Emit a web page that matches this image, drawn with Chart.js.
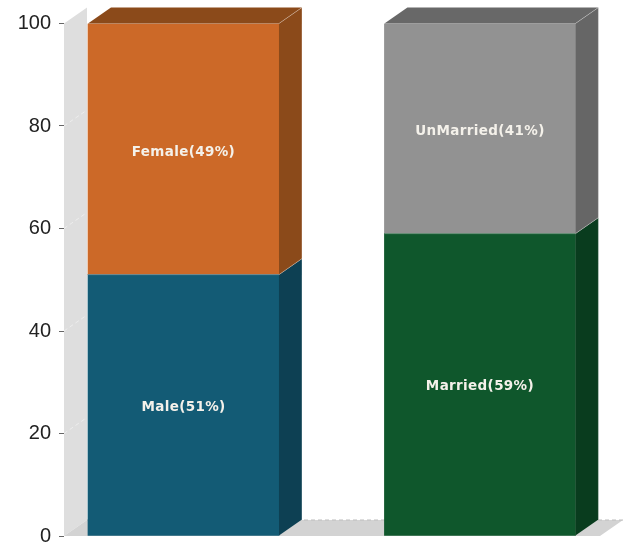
<!DOCTYPE html>
<html>
<head>
<meta charset="utf-8">
<style>html,body{margin:0;padding:0;background:#fff}canvas{display:block;filter:blur(0.5px)}</style>
<script src="https://cdn.jsdelivr.net/npm/chart.js@4"></script>
</head>
<body>
<canvas id="c" width="623" height="545"></canvas>
<script>
const barPositions = [0, 1];
const lowerValues = [51, 59];
const upperValues = [49, 41];
const lowerLabels = ['Male(51%)', 'Married(59%)'];
const upperLabels = ['Female(49%)', 'UnMarried(41%)'];
const lowerFront = ['#135B75', '#0F572C'];
const lowerSide = ['#0D4053', '#093C1E'];
const upperFront = ['#CC6928', '#929292'];
const upperSide = ['#8B4A1A', '#666666'];
const upperTop = ['#8B4A1A', '#686868'];
const yMax = 100, yStep = 20;
const depthX = 23, depthY = 16;

function poly(ctx, pts, fill, stroke) {
  ctx.beginPath();
  pts.forEach((p, i) => i ? ctx.lineTo(p[0], p[1]) : ctx.moveTo(p[0], p[1]));
  ctx.closePath();
  ctx.fillStyle = fill;
  ctx.fill();
  if (stroke) { ctx.strokeStyle = stroke; ctx.lineWidth = 1; ctx.stroke(); }
}

const box3d = {
  id: 'box3d',
  beforeDatasetsDraw(chart) {
    const { ctx, chartArea: a, scales: { y } } = chart;
    const b = a.bottom, t = a.top;
    ctx.save();
    poly(ctx, [[a.left, b], [a.left, t], [a.left + depthX, t - depthY], [a.left + depthX, b - depthY]], '#DEDEDE');
    poly(ctx, [[a.left, b], [a.right, b], [a.right + depthX, b - depthY], [a.left + depthX, b - depthY]], '#D3D3D3');
    ctx.strokeStyle = 'rgba(255,255,255,0.45)';
    ctx.setLineDash([4, 3]);
    ctx.lineWidth = 1;
    y.ticks.forEach(tk => {
      if (tk.value === 0 || tk.value === yMax) return;
      const py = y.getPixelForValue(tk.value);
      ctx.beginPath();
      ctx.moveTo(a.left, py);
      ctx.lineTo(a.left + depthX, py - depthY);
      ctx.stroke();
    });
    ctx.strokeStyle = '#BDBDBD';
    ctx.beginPath();
    ctx.moveTo(a.left + depthX, b - depthY);
    ctx.lineTo(a.right + depthX, b - depthY);
    ctx.stroke();
    ctx.restore();
  },
  afterDatasetsDraw(chart) {
    const { ctx } = chart;
    ctx.save();
    const lower = chart.getDatasetMeta(0).data;
    const upper = chart.getDatasetMeta(1).data;
    lower.forEach((bar, i) => {
      const r = bar.x + bar.width / 2, l = bar.x - bar.width / 2;
      const top = upper[i];
      poly(ctx, [[r, bar.base], [r, bar.y], [r + depthX, bar.y - depthY], [r + depthX, bar.base - depthY]], lowerSide[i]);
      poly(ctx, [[r, top.base], [r, top.y], [r + depthX, top.y - depthY], [r + depthX, top.base - depthY]], upperSide[i]);
      poly(ctx, [[l, top.y], [r, top.y], [r + depthX, top.y - depthY], [l + depthX, top.y - depthY]], upperTop[i]);
      ctx.strokeStyle = 'rgba(255,255,255,0.3)';
      ctx.lineWidth = 1;
      ctx.beginPath();
      ctx.moveTo(l, bar.y); ctx.lineTo(r, bar.y); ctx.lineTo(r + depthX, bar.y - depthY);
      ctx.moveTo(r, top.y); ctx.lineTo(r + depthX, top.y - depthY); ctx.lineTo(r + depthX, bar.base - depthY);
      ctx.stroke();
    });
    ctx.font = 'bold 13.5px "DejaVu Sans"';
    ctx.letterSpacing = '0.35px';
    ctx.textAlign = 'center';
    ctx.textBaseline = 'middle';
    ctx.fillStyle = '#F4F1EA';
    const put = (els, labels, dy) => els.forEach((e, i) => {
      ctx.fillText(labels[i], e.x, (e.y + e.base) / 2 + dy);
    });
    put(lower, lowerLabels, 2);
    put(upper, upperLabels, 3);
    ctx.restore();
  }
};

new Chart(document.getElementById('c'), {
  type: 'bar',
  data: {
    datasets: [
      { label: 'lower', data: barPositions.map((x, i) => ({ x, y: lowerValues[i] })), backgroundColor: lowerFront, barThickness: 191 },
      { label: 'upper', data: barPositions.map((x, i) => ({ x, y: upperValues[i] })), backgroundColor: upperFront, barThickness: 191 }
    ]
  },
  options: {
    responsive: false,
    animation: false,
    devicePixelRatio: 1,
    layout: { padding: { top: 23.5, right: 23, bottom: 9, left: 0 } },
    plugins: { legend: { display: false }, tooltip: { enabled: false }, title: { display: false } },
    scales: {
      x: { type: 'linear', stacked: true, display: false, offset: false, min: -0.403, max: 1.405 },
      y: {
        stacked: true, min: 0, max: yMax,
        afterFit(s) { s.width = 64; s.paddingTop = 0; s.paddingBottom = 0; },
        border: { display: false },
        grid: { drawOnChartArea: false, drawTicks: true, tickLength: 5, color: '#666' },
        ticks: { stepSize: yStep, color: '#222', padding: 8, font: { family: '"Liberation Sans"', size: 20 } }
      }
    }
  },
  plugins: [box3d]
});
</script>
</body>
</html>
